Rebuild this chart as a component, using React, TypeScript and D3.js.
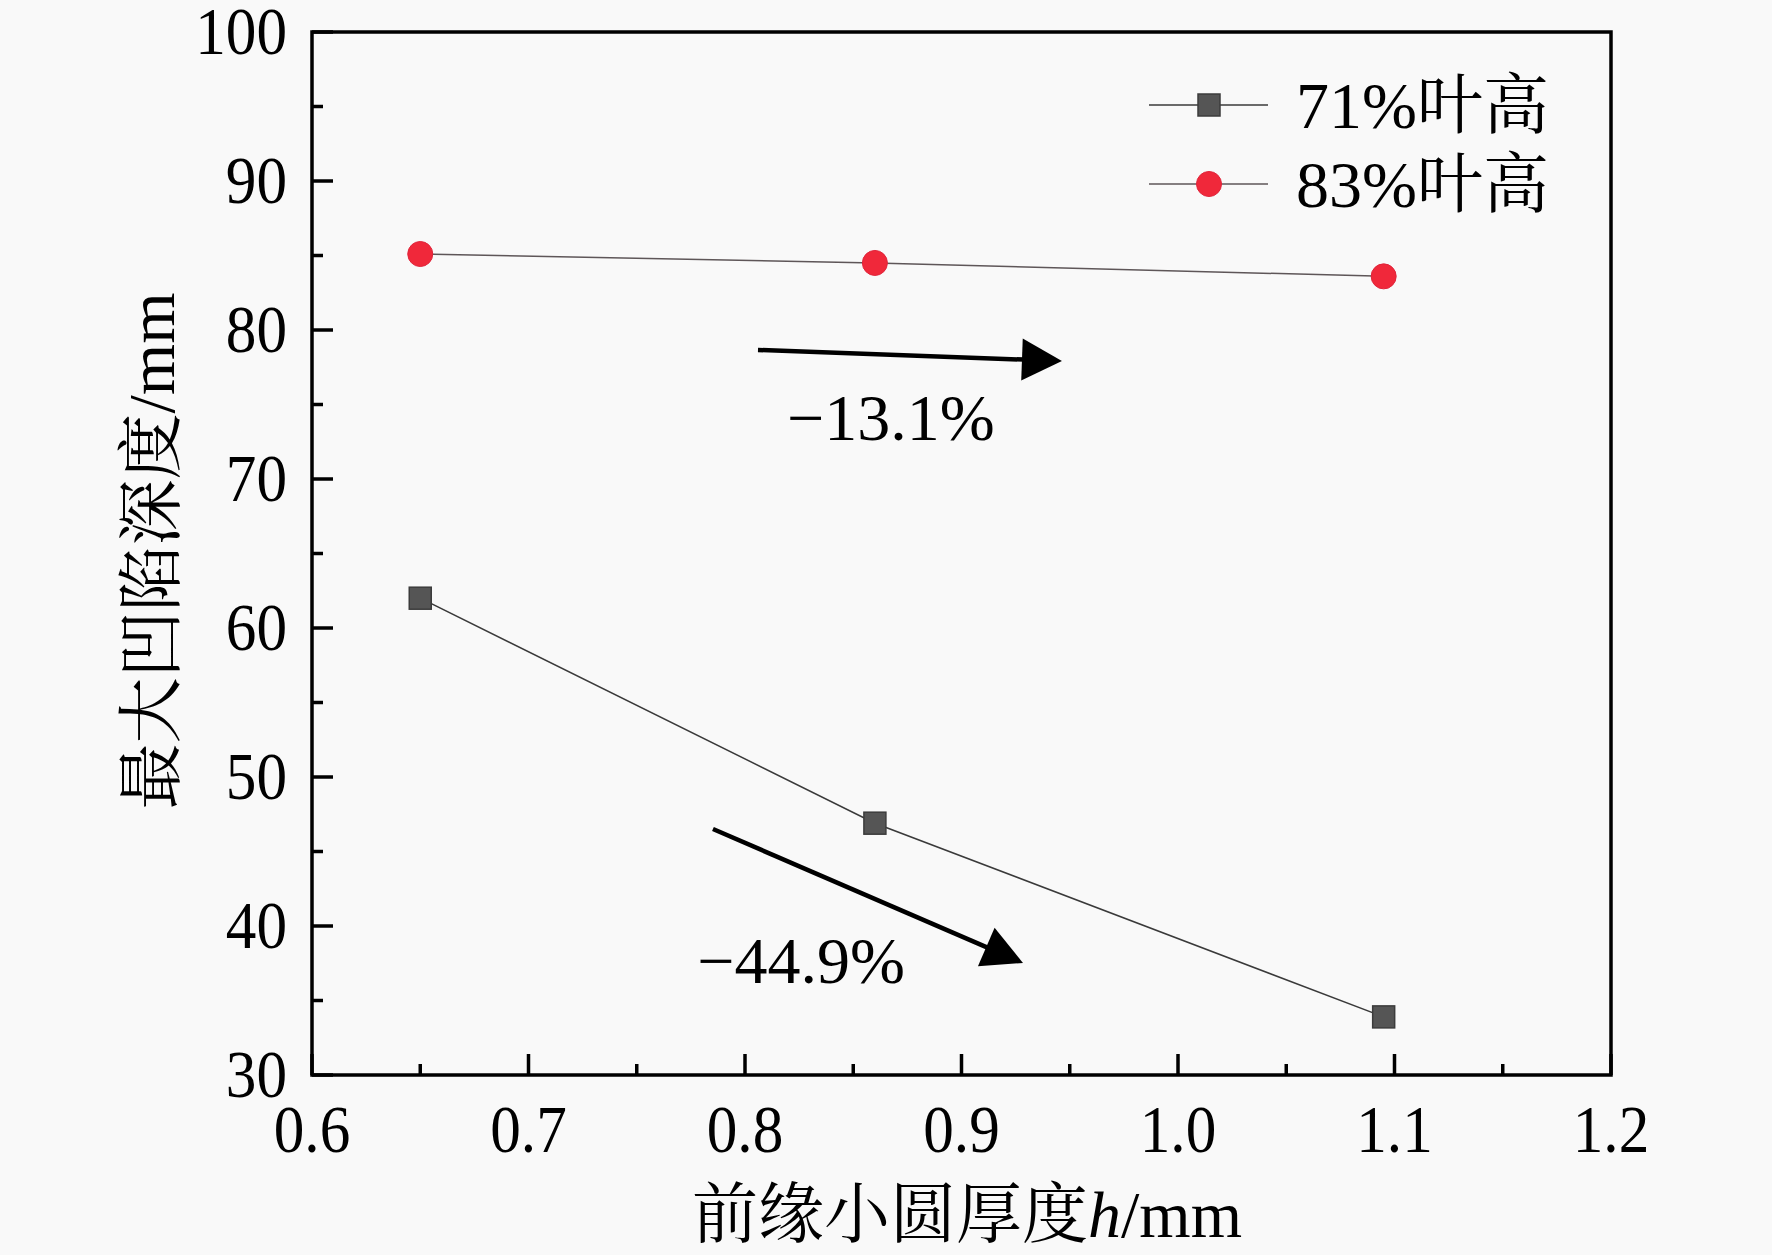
import React, { useEffect, useRef } from 'react';
import * as d3 from 'd3';

// leading-edge small circle thickness h (mm)
const thickness = [0.65, 0.86, 1.095];
// max dent depth (mm)
const depth71 = [62.0, 46.9, 33.9];
const depth83 = [85.1, 84.5, 83.6];

const seriesNames = ['71%叶高', '83%叶高'];
const xTicks = [0.6, 0.7, 0.8, 0.9, 1.0, 1.1, 1.2];
const yTicks = [30, 40, 50, 60, 70, 80, 90, 100];

// annotation arrows in data units: [x0, y0, x1, y1]
const arrows = [
  [0.806, 78.66, 0.9464, 77.92],
  [0.7852, 46.51, 0.9284, 37.52],
];
const arrowLabels = [
  { x: 0.8674, y: 72.62, text: '−13.1%' },
  { x: 0.8259, y: 36.17, text: '−44.9%' },
];

const W = 1772;
const H = 1255;
const FONT = "'Liberation Serif', 'Times New Roman', 'Noto Serif CJK SC', 'Noto Sans CJK SC', serif";

export default function App() {
  const svgRef = useRef<SVGSVGElement>(null);

  useEffect(() => {
    if (!svgRef.current) return;
    const svg = d3.select(svgRef.current);
    svg.selectAll('*').remove();

    const margin = { top: 32, right: 161, bottom: 180, left: 312 };
    const width = W - margin.left - margin.right;
    const height = H - margin.top - margin.bottom;

    svg.append('rect').attr('width', W).attr('height', H).attr('fill', '#f9f9f9');

    const g = svg.append('g').attr('transform', `translate(${margin.left},${margin.top})`);

    const x = d3.scaleLinear().domain([0.6, 1.2]).range([0, width]);
    const y = d3.scaleLinear().domain([30, 100]).range([height, 0]);

    // frame
    g.append('rect')
      .attr('width', width)
      .attr('height', height)
      .attr('fill', 'none')
      .attr('stroke', '#000')
      .attr('stroke-width', 3.5);

    // x ticks (inward)
    const xMinor = d3.range(0.65, 1.2, 0.1);
    g.selectAll('.xmaj').data(xTicks).enter().append('line')
      .attr('x1', d => x(d)).attr('x2', d => x(d))
      .attr('y1', height).attr('y2', height - 21)
      .attr('stroke', '#000').attr('stroke-width', 3.5);
    g.selectAll('.xmin').data(xMinor).enter().append('line')
      .attr('x1', d => x(d)).attr('x2', d => x(d))
      .attr('y1', height).attr('y2', height - 11)
      .attr('stroke', '#000').attr('stroke-width', 3.5);
    g.selectAll('.xlab').data(xTicks).enter().append('text')
      .attr('transform', d => `translate(${x(d)},${height + 77}) scale(0.9,1)`)
      .attr('text-anchor', 'middle')
      .style('font-family', FONT)
      .style('font-size', '68px')
      .attr('fill', '#000')
      .text(d => d.toFixed(1));

    // y ticks (inward)
    const yMinor = d3.range(35, 100, 10);
    g.selectAll('.ymaj').data(yTicks).enter().append('line')
      .attr('x1', 0).attr('x2', 21)
      .attr('y1', d => y(d)).attr('y2', d => y(d))
      .attr('stroke', '#000').attr('stroke-width', 3.5);
    g.selectAll('.ymin').data(yMinor).enter().append('line')
      .attr('x1', 0).attr('x2', 11)
      .attr('y1', d => y(d)).attr('y2', d => y(d))
      .attr('stroke', '#000').attr('stroke-width', 3.5);
    g.selectAll('.ylab').data(yTicks).enter().append('text')
      .attr('transform', d => `translate(-25,${y(d) + 22}) scale(0.9,1)`)
      .attr('text-anchor', 'end')
      .style('font-family', FONT)
      .style('font-size', '68px')
      .attr('fill', '#000')
      .text(d => String(d));

    // axis titles
    const xt = svg.append('text')
      .attr('x', 967).attr('y', 1237)
      .attr('text-anchor', 'middle')
      .style('font-family', FONT)
      .style('font-size', '66px')
      .attr('fill', '#000');
    xt.append('tspan').text('前缘小圆厚度');
    xt.append('tspan').style('font-style', 'italic').text('h');
    xt.append('tspan').text('/mm');

    svg.append('text')
      .attr('transform', 'translate(174,551) rotate(-90)')
      .attr('text-anchor', 'middle')
      .style('font-family', FONT)
      .style('font-size', '66px')
      .attr('fill', '#000')
      .text('最大凹陷深度/mm');

    // series lines
    const line = d3.line<number>()
      .x((_, i) => x(thickness[i]))
      .y(d => y(d));

    g.append('path').datum(depth71)
      .attr('fill', 'none').attr('stroke', '#3a3a3a').attr('stroke-width', 1.5)
      .attr('d', line);
    g.append('path').datum(depth83)
      .attr('fill', 'none').attr('stroke', '#5e5658').attr('stroke-width', 1.5)
      .attr('d', line);

    // markers
    const sq = 22;
    g.selectAll('.sq').data(depth71).enter().append('rect')
      .attr('x', (_, i) => x(thickness[i]) - sq / 2)
      .attr('y', d => y(d) - sq / 2)
      .attr('width', sq).attr('height', sq)
      .attr('fill', '#555').attr('stroke', '#3c3c3c').attr('stroke-width', 1.5);
    g.selectAll('.ci').data(depth83).enter().append('circle')
      .attr('cx', (_, i) => x(thickness[i]))
      .attr('cy', d => y(d))
      .attr('r', 12.5)
      .attr('fill', '#f0283a').attr('stroke', '#e0243a').attr('stroke-width', 1);

    // arrows
    arrows.forEach(([x0, y0, x1, y1]) => {
      const px0 = x(x0), py0 = y(y0), px1 = x(x1), py1 = y(y1);
      const ang = Math.atan2(py1 - py0, px1 - px0);
      const len = 40, half = 21;
      const bx = px1 - len * Math.cos(ang), by = py1 - len * Math.sin(ang);
      g.append('line')
        .attr('x1', px0).attr('y1', py0).attr('x2', bx + 2 * Math.cos(ang)).attr('y2', by + 2 * Math.sin(ang))
        .attr('stroke', '#000').attr('stroke-width', 4.5);
      const pts = [
        [px1, py1],
        [bx - half * Math.sin(ang), by + half * Math.cos(ang)],
        [bx + half * Math.sin(ang), by - half * Math.cos(ang)],
      ];
      g.append('path')
        .attr('d', 'M' + pts.map(p => p.join(',')).join('L') + 'Z')
        .attr('fill', '#000');
    });
    g.selectAll('.alab').data(arrowLabels).enter().append('text')
      .attr('x', d => x(d.x)).attr('y', d => y(d.y))
      .attr('text-anchor', 'middle')
      .style('font-family', FONT)
      .style('font-size', '66px')
      .attr('fill', '#000')
      .text(d => d.text);

    // legend
    const legend = svg.append('g').attr('transform', 'translate(1149,105)');
    seriesNames.forEach((name, i) => {
      const row = legend.append('g').attr('transform', `translate(0,${i * 79})`);
      row.append('line')
        .attr('x1', 0).attr('x2', 119).attr('y1', 0).attr('y2', 0)
        .attr('stroke', i === 0 ? '#3a3a3a' : '#5e5658').attr('stroke-width', 1.5);
      if (i === 0) {
        row.append('rect')
          .attr('x', 60 - sq / 2).attr('y', -sq / 2).attr('width', sq).attr('height', sq)
          .attr('fill', '#555').attr('stroke', '#3c3c3c').attr('stroke-width', 1.5);
      } else {
        row.append('circle')
          .attr('cx', 60).attr('cy', 0).attr('r', 12.5)
          .attr('fill', '#f0283a').attr('stroke', '#e0243a').attr('stroke-width', 1);
      }
      row.append('text')
        .attr('x', 147).attr('y', 23)
        .style('font-family', FONT)
        .style('font-size', '66px')
        .attr('fill', '#000')
        .text(name);
    });
  }, []);

  return (
    <svg
      ref={svgRef}
      width={W}
      height={H}
      style={{ position: 'absolute', left: 0, top: 0, display: 'block' }}
    />
  );
}
